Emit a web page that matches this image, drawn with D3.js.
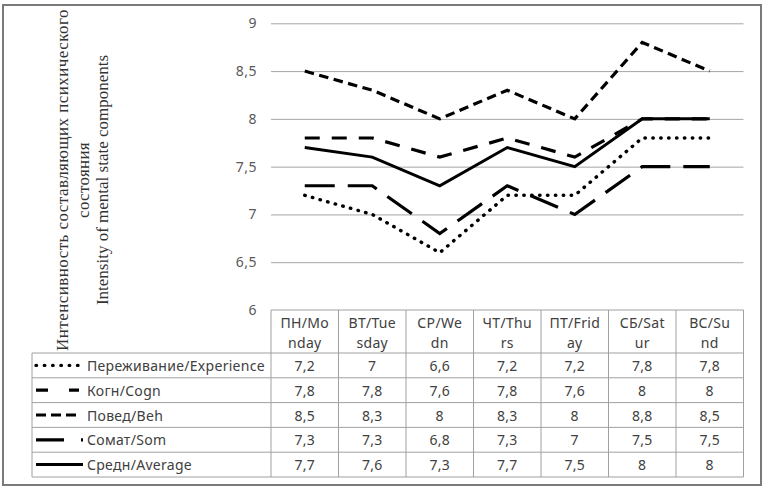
<!DOCTYPE html>
<html><head><meta charset="utf-8">
<script src="https://cdn.jsdelivr.net/npm/d3@7"></script>
<style>
html,body{margin:0;padding:0;background:#fff;}
svg{display:block;}
</style></head>
<body>
<svg id="chart" width="770" height="495"></svg>
<script>
const daysTop = ["ПН/Mo","ВТ/Tue","СР/We","ЧТ/Thu","ПТ/Frid","СБ/Sat","ВС/Su"];
const daysBottom = ["nday","sday","dn","rs","ay","ur","nd"];
const days = daysTop.map((d,i)=>d+daysBottom[i]);
const seriesNames = ["Переживание/Experience","Когн/Cogn","Повед/Beh","Сомат/Som","Средн/Average"];
const experience = [7.2, 7, 6.6, 7.2, 7.2, 7.8, 7.8];
const cogn = [7.8, 7.8, 7.6, 7.8, 7.6, 8, 8];
const beh = [8.5, 8.3, 8, 8.3, 8, 8.8, 8.5];
const som = [7.3, 7.3, 6.8, 7.3, 7, 7.5, 7.5];
const average = [7.7, 7.6, 7.3, 7.7, 7.5, 8, 8];
const yTicks = [6, 6.5, 7, 7.5, 8, 8.5, 9];
const titleLine1 = "Интенсивность составляющих  психического";
const titleLine2 = "состояния";
const titleLine3 = "Intensity of mental state components";

const series = [
  {name: seriesNames[0], values: experience, dash: "0.5,7.4", cap: "round", w: 3.4, legendDash: "0.5,7.8"},
  {name: seriesNames[1], values: cogn, dash: "15,12", cap: "butt", w: 3.2, legendDash: "12,21"},
  {name: seriesNames[2], values: beh, dash: "9.5,5.5", cap: "butt", w: 3.2, legendDash: "10,5"},
  {name: seriesNames[3], values: som, dash: "30,13", cap: "butt", w: 3.2, legendDash: "28,17,2,100"},
  {name: seriesNames[4], values: average, dash: null, cap: "butt", w: 3, legendDash: null}
];

const svg = d3.select("#chart");
const fmt = v => String(v).replace(".", ",");
const SANS = "'Noto Sans', 'Open Sans', sans-serif";
const SERIF = "'Liberation Serif', 'DejaVu Serif', serif";

const plotL = 271, plotR = 743.5, plotT = 23.3, plotB = 310;
const x = d3.scalePoint().domain(days).range([plotL, plotR]).padding(0.5);
const colW = (plotR - plotL) / days.length;
const y = d3.scaleLinear().domain([6, 9]).range([plotB, plotT]);

// outer frame
svg.append("rect").attr("x", 3).attr("y", 5).attr("width", 758).attr("height", 480)
  .attr("fill", "#fff").attr("stroke", "#7a7a7a").attr("stroke-width", 2);

// y-axis title (rotated)
const tg = svg.append("g").attr("font-family", SERIF).attr("font-size", 17).attr("fill", "#333");
[[titleLine1, 62, 0.45], [titleLine2, 83, 0.3], [titleLine3, 102, 0]].forEach(([t, cx, ls]) => {
  tg.append("text").attr("transform", `translate(${cx},180) rotate(-90)`)
    .attr("text-anchor", "middle").attr("dominant-baseline", "central")
    .attr("letter-spacing", ls).text(t);
});

// gridlines + tick labels via axis
const yAxis = d3.axisLeft(y).tickValues(yTicks).tickFormat(fmt).tickSize(-(plotR - plotL)).tickPadding(14);
const ag = svg.append("g").attr("transform", `translate(${plotL},0)`).call(yAxis);
ag.select(".domain").remove();
ag.selectAll(".tick line").attr("stroke", "#a6a6a6").attr("stroke-width", 1);
ag.selectAll(".tick text").attr("font-family", SANS).attr("font-size", 14).attr("fill", "#595959")
  .attr("letter-spacing", 0.5);

// lines
const line = d3.line().x((d, i) => x(days[i])).y(d => y(d));
series.forEach(s => {
  svg.append("path").datum(s.values).attr("d", line)
    .attr("fill", "none").attr("stroke", "#000").attr("stroke-width", s.w)
    .attr("stroke-linecap", s.cap).attr("stroke-linejoin", "miter")
    .attr("stroke-dasharray", s.dash);
});

// data table
const headT = 310, headB = 353, rowH = 24.8, legL = 32;
const tbl = svg.append("g");
const gridColor = "#a0a0a0";
const FS = 14, LS = 0.3;
tbl.append("rect").attr("x", legL).attr("y", headB).attr("width", plotR - legL).attr("height", rowH * 5).attr("fill", "#fff");
tbl.append("rect").attr("x", plotL).attr("y", headT).attr("width", plotR - plotL).attr("height", headB - headT).attr("fill", "#fff");

const txt = (xx, yy, t, anchor) => tbl.append("text").attr("x", xx).attr("y", yy)
  .attr("text-anchor", anchor).attr("dominant-baseline", "central")
  .attr("font-family", SANS).attr("font-size", FS).attr("letter-spacing", LS)
  .attr("fill", "#404040").text(t);

// header text
days.forEach((d, i) => {
  txt(x(d), 322, daysTop[i], "middle");
  txt(x(d), 342, daysBottom[i], "middle");
});

// rows
series.forEach((s, r) => {
  const cy = headB + rowH * r + rowH / 2;
  s.values.forEach((v, i) => txt(x(days[i]), cy, fmt(v), "middle"));
  tbl.append("line").attr("x1", 36).attr("x2", r >= 3 ? 83 : 79).attr("y1", cy).attr("y2", cy)
    .attr("stroke", "#000").attr("stroke-width", s.w).attr("stroke-linecap", s.cap)
    .attr("stroke-dasharray", s.legendDash);
  txt(87, cy, s.name, "start");
});

// table grid lines
const hl = (x1, x2, yy) => tbl.append("line").attr("x1", x1).attr("x2", x2).attr("y1", yy).attr("y2", yy).attr("stroke", gridColor).attr("stroke-width", 1);
const vl = (xx, y1, y2) => tbl.append("line").attr("x1", xx).attr("x2", xx).attr("y1", y1).attr("y2", y2).attr("stroke", gridColor).attr("stroke-width", 1);
hl(plotL, plotR, headT);
for (let r = 0; r <= 5; r++) hl(legL, plotR, headB + rowH * r);
vl(legL, headB, headB + rowH * 5);
for (let i = 0; i <= days.length; i++) vl(plotL + colW * i, headT, headB + rowH * 5);
</script>
</body></html>
